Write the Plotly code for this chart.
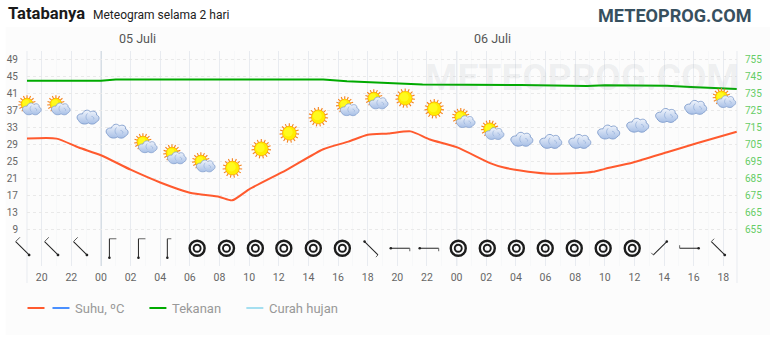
import base64
import plotly.graph_objects as go

# ---- data ----
tick_hours = [-4, -2, 0, 2, 4, 6, 8, 10, 12, 14, 16, 18, 20, 22, 24, 26, 28, 30, 32, 34, 36, 38, 40, 42]
tick_labels = ["20", "22", "00", "02", "04", "06", "08", "10", "12", "14", "16", "18", "20", "22",
               "00", "02", "04", "06", "08", "10", "12", "14", "16", "18"]
temp_hours = [-5, -3, -1.5, 0, 2, 4, 6, 8, 8.85, 10, 12.5, 15, 16.7, 18, 19.4, 20.9, 22.2, 24, 26.3, 27.2,
              28.3, 30, 32.3, 33.2, 34, 35.9, 38.2, 40.2, 42.9]
temp_values = [30.3, 30.3, 28.2, 26.4, 23.0, 20.0, 17.6, 16.6, 15.8, 18.4, 22.9, 27.8, 29.6, 31.2, 31.5, 32.0,
               30.1, 28.3, 24.5, 23.5, 22.8, 22.1, 22.2, 22.5, 23.2, 24.7, 27.1, 29.2, 31.9]
pressure_hours = [-5, 0, 1, 15, 16.6, 19.5, 21.7, 28.3, 32.8, 34, 38.2, 39.8, 42.9]
pressure_values = [742.3, 742.3, 742.9, 742.9, 741.9, 740.7, 740.1, 739.7, 739.1, 739.6, 739.3, 738.6, 737.4]
icon_hours = [-4.82, -2.87, -0.91, 1.05, 3.0, 4.96, 6.91, 8.87, 10.82, 12.71, 14.67, 16.62, 18.58, 20.53,
              22.49, 24.45, 26.4, 28.36, 30.31, 32.27, 34.22, 36.18, 38.13, 40.09, 42.04]
icon_temps = [37.7, 37.7, 35.4, 32.1, 28.8, 26.2, 24.3, 23.4, 27.9, 31.6, 35.4, 37.5, 39.1, 39.8, 37.3, 34.7,
              31.9, 30.2, 29.7, 29.7, 31.9, 33.5, 35.8, 37.7, 39.4]
icon_kinds = ["sc", "sc", "c", "c", "sc", "sc", "sc", "s", "s", "s", "s", "sc", "sc", "s", "s", "sc", "sc",
              "c", "c", "c", "c", "c", "c", "c", "sc"]
wind_hours = [-5.3, -3.35, -1.4, 0.57, 2.53, 4.48, 6.49, 8.47, 10.42, 12.34, 14.33, 16.29, 18.24, 20.2, 22.15,
              24.11, 26.07, 28.03, 29.98, 31.94, 33.89, 35.85, 37.73, 39.69, 41.64]
wind_rotation = [-45, -45, -45, 0, 0, 0, None, None, None, None, None, None, 135, 90, 90, None, None, None,
                 None, None, None, None, -135, -90, -45]
wind_flag = [6, 6, 6, 7, 7, 4, 0, 0, 0, 0, 0, 0, 3, 3, 3, 0, 0, 0, 0, 0, 0, 0, 3, 3, 4]
wind_level = 4.55
legend_names = ["Suhu, ºC", "Tekanan", "Curah hujan"]
legend_x0 = [52, 149, 246]
grid_color = "#e8ebf0"

# ---- icon helpers ----
def uri(svg):
    return "data:image/svg+xml;base64," + base64.b64encode(svg.encode()).decode()

def sun(cx, cy, r):
    rays = "".join(
        f'<line x1="{cx}" y1="{cy-r-2.8}" x2="{cx}" y2="{cy-r+0.5}" transform="rotate({a} {cx} {cy})" '
        f'stroke="#f5821e" stroke-width="1.1"/>' for a in range(0, 360, 24))
    return (rays + f'<circle cx="{cx}" cy="{cy}" r="{r+0.3}" fill="#fba50f"/>'
            f'<circle cx="{cx}" cy="{cy}" r="{r-0.4}" fill="#ffee00"/>'
            f'<circle cx="{cx-1}" cy="{cy-1}" r="{r-2.6}" fill="#fffa1e"/>')

def cloud(dx, dy, s):
    return (f'<g transform="translate({dx} {dy}) scale({s})">'
            '<defs><linearGradient id="g" x1="0" y1="0" x2="0" y2="1">'
            '<stop offset="0" stop-color="#f1f5fc"/><stop offset="1" stop-color="#a7bfe6"/></linearGradient></defs>'
            '<path d="M2 11 C-1 8 1 4 6 4.5 C7 0.5 12 -0.5 14 2.5 C17 0.5 21 2.5 20 5.5 C23.5 6.5 23.5 11 20 12.5 '
            'C18 15.5 14 15 12 13.5 C9 15.5 4 15 2 11 Z" fill="url(#g)" stroke="#7f9ccc" stroke-width="0.9"/>'
            '<path d="M11 4 C9 6 9 9 11 11 M15 7 C17 7 18 9 17 10" fill="none" stroke="#8facd8" stroke-width="0.7"/>'
            '</g>')

def svg_wrap(body):
    return uri(f'<svg xmlns="http://www.w3.org/2000/svg" width="96" height="96" viewBox="0 0 32 32">{body}</svg>')

ICON = {
    "s": svg_wrap(sun(16, 16, 7)),
    "c": svg_wrap(cloud(5, 8.5, 1.0)),
    "sc": svg_wrap(sun(13.5, 13, 6) + cloud(8.5, 11.2, 0.85)),
}

def barb(rot, flag):
    col = "#222"
    body = (f'<g transform="rotate({rot} 16 16)">'
            f'<line x1="16" y1="6.5" x2="16" y2="25.5" stroke="{col}" stroke-width="1"/>'
            f'<line x1="16" y1="6.5" x2="{16+flag}" y2="6.5" stroke="#555" stroke-width="0.9"/>'
            f'<circle cx="16" cy="25.5" r="1.3" fill="{col}"/></g>')
    return svg_wrap(body)

# ---- figure ----
W, H = 770, 340
L, R, T, B = 26.5, 737, 51, 266
X0, X1 = (L - 100.5) / 14.83, (R - 100.5) / 14.83
Y0, Y1 = 0.38, 50.88
paper_x = lambda h: (h - X0) / (X1 - X0)
paper_y = lambda t: (t - Y0) / (Y1 - Y0)
fx = lambda v: (v - L) / (R - L)
fy = lambda v: (B - v) / (B - T)

fig = go.Figure()
fig.add_trace(go.Scatter(x=pressure_hours, y=pressure_values, yaxis="y2", mode="lines", name="Tekanan",
                         line=dict(color="#00aa00", width=2), showlegend=False, hoverinfo="skip"))
fig.add_trace(go.Scatter(x=temp_hours, y=temp_values, mode="lines", name="Suhu",
                         line=dict(color="#ff5a2e", width=2, shape="spline", smoothing=0.6),
                         showlegend=False, hoverinfo="skip"))
ring_x = [h for h, r in zip(wind_hours, wind_rotation) if r is None]
ring_y = [wind_level] * len(ring_x)
fig.add_trace(go.Scatter(x=ring_x, y=ring_y, mode="markers", showlegend=False, hoverinfo="skip",
                         marker=dict(symbol="circle-open", size=15, color="#1c1c1c", line=dict(width=2.4, color="#1c1c1c"))))
fig.add_trace(go.Scatter(x=ring_x, y=ring_y, mode="markers", showlegend=False, hoverinfo="skip",
                         marker=dict(symbol="circle-open", size=7, color="#1c1c1c", line=dict(width=1.9, color="#1c1c1c"))))

sx, sy = 32 / (R - L), 32 / (B - T)
images = []
for h, t, k in zip(icon_hours, icon_temps, icon_kinds):
    images.append(dict(source=ICON[k], xref="paper", yref="paper", x=paper_x(h), y=paper_y(t), sizex=sx, sizey=sy,
                       xanchor="center", yanchor="middle", layer="above", sizing="contain"))
for h, r, f in zip(wind_hours, wind_rotation, wind_flag):
    if r is not None:
        images.append(dict(source=barb(r, f), xref="paper", yref="paper", x=paper_x(h), y=paper_y(wind_level),
                           sizex=sx, sizey=sy, xanchor="center", yanchor="middle", layer="above", sizing="contain"))

shapes = [dict(type="rect", xref="paper", yref="paper", x0=fx(5), x1=fx(770), y0=fy(335), y1=fy(27),
               fillcolor="#fcfcfc", line_width=0, layer="below")]
for xx in (L, R):
    shapes.append(dict(type="line", xref="paper", yref="paper", x0=fx(xx), x1=fx(xx), y0=fy(283), y1=fy(51),
                       line=dict(color=grid_color, width=1), layer="below"))
for d in (0, 24):
    shapes.append(dict(type="line", xref="x", yref="paper", x0=d, x1=d, y0=0, y1=1,
                       line=dict(color="#a6b8c8", width=1), layer="below"))
colors = ["#4a90ff", "#00aa00", "#a5dff0"]
for x0, c in zip(legend_x0, colors):
    shapes.append(dict(type="line", xref="paper", yref="paper", x0=fx(x0), x1=fx(x0 + 17), y0=fy(308), y1=fy(308),
                       line=dict(color=c, width=2)))
shapes.append(dict(type="line", xref="paper", yref="paper", x0=fx(27), x1=fx(44), y0=fy(308), y1=fy(308),
                   line=dict(color="#ff5a2e", width=2)))

def ann(text, x, y, size, color, anchor="left", bold=False):
    if bold:
        text = f"<b>{text}</b>"
    return dict(text=text, xref="paper", yref="paper", x=fx(x), y=fy(y), xanchor=anchor, yanchor="middle",
                showarrow=False, font=dict(family="Roboto", size=size, color=color), borderpad=0, borderwidth=0)

annotations = [
    ann("METEOPROG.COM", 425, 77, 37, "rgba(120,130,140,0.11)", bold=True),
    ann("Tatabanya", 7, 14, 16.6, "#1a1a1a", bold=True),
    ann("Meteogram selama 2 hari", 93, 15, 12, "#222"),
    ann("METEOPROG.COM", 598, 15, 18.1, "#37505f", bold=True),
    ann("05 Juli", 119, 39, 12.5, "#555"),
    ann("06 Juli", 474, 39, 12.5, "#555"),
]
for x, n in zip([75, 172, 269], legend_names):
    annotations.append(ann(n, x, 308, 13, "#999"))

fig.update_layout(
    width=W, height=H, margin=dict(l=L, r=W - R, t=T, b=H - B, autoexpand=False),
    paper_bgcolor="white", plot_bgcolor="rgba(0,0,0,0)", showlegend=False,
    font=dict(family="Roboto"),
    xaxis=dict(range=[X0, X1], tickvals=tick_hours, ticktext=tick_labels,
               showgrid=True, gridcolor=grid_color, gridwidth=1, zeroline=False, ticks="outside", ticklen=1,
               tickcolor="rgba(0,0,0,0)", tickfont=dict(size=10.5, color="#666"), showline=False,
               minor=dict(dtick=1, showgrid=True, gridcolor="#f7f8f9", gridwidth=1, ticks="")),
    yaxis=dict(range=[Y0, Y1], tickvals=list(range(9, 50, 4)), showgrid=True, gridcolor="#e9e9e9",
               griddash="3px,3px", zeroline=False, tickfont=dict(size=10, color="#666"), ticks="outside",
               ticklen=6, tickcolor="rgba(0,0,0,0)"),
    yaxis2=dict(range=[633.45, 759.7], overlaying="y", side="right", tickvals=list(range(655, 756, 10)),
                showgrid=False, zeroline=False, tickfont=dict(size=10, color="#66cc66"), ticks="outside",
                ticklen=5, tickcolor="rgba(0,0,0,0)"),
    shapes=shapes, annotations=annotations, images=images,
)
fig.write_html("out.html", config=dict(displayModeBar=False),
               post_script="document.body.style.margin='0';document.documentElement.style.overflow='hidden';")
